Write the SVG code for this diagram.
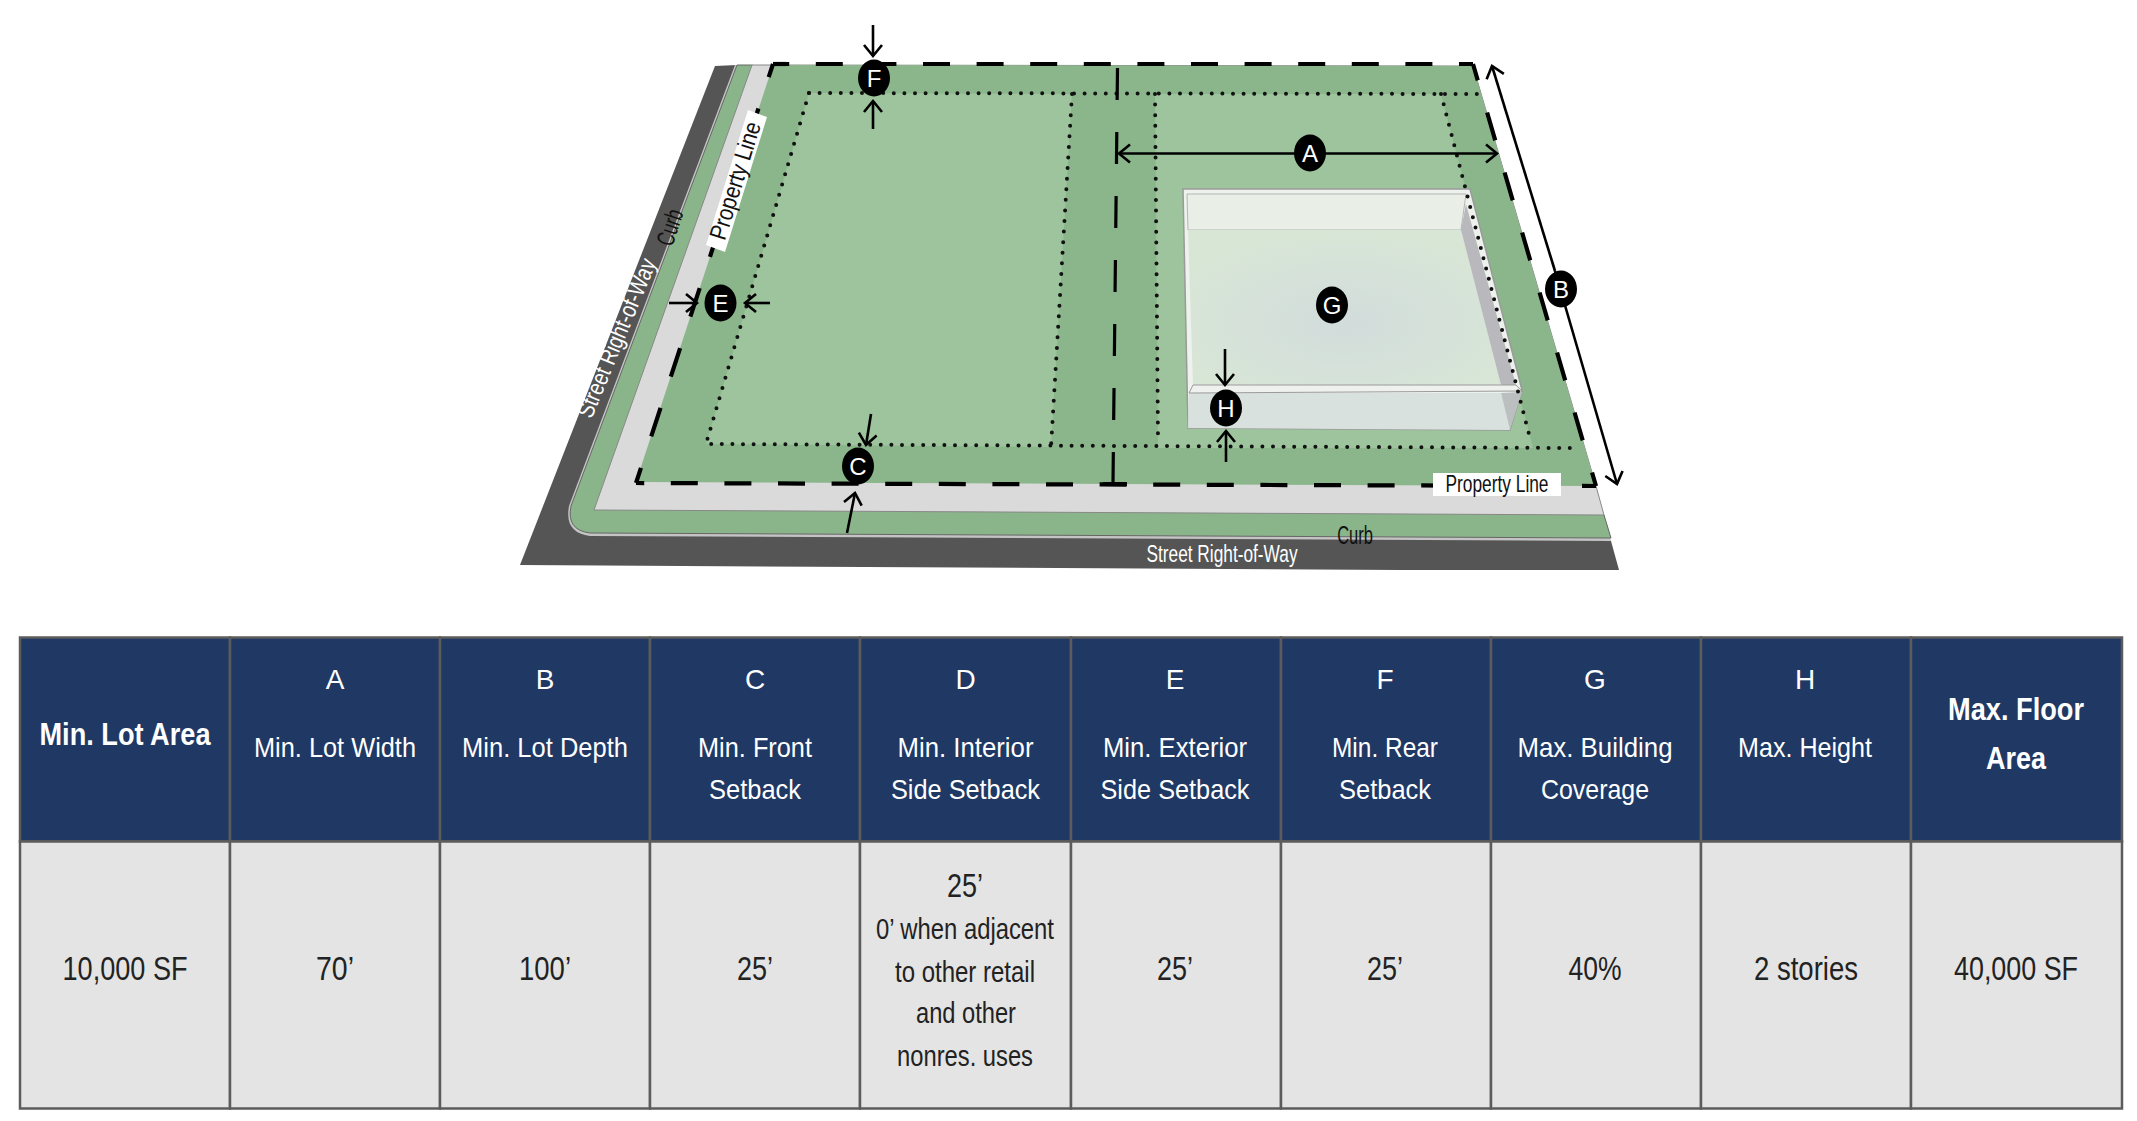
<svg xmlns="http://www.w3.org/2000/svg" width="2137" height="1121" viewBox="0 0 2137 1121">
<style>
text{font-family:"Liberation Sans",Arial,sans-serif}
#table text{transform:translateY(-1.4px)}
.prop{fill:none;stroke:#000;stroke-width:4.2}
.int{fill:none;stroke:#000;stroke-width:3.2;stroke-dasharray:32 32}
.dot{fill:none;stroke:#111;stroke-width:4;stroke-linecap:round;stroke-dasharray:0 10.6}
.arr{fill:none;stroke:#000;stroke-width:2.6;marker-end:url(#open)}
.badge{fill:#000}
.bt{fill:#fff;font-size:24px;text-anchor:middle}
.hd{fill:#203864;stroke:#5c5c5c;stroke-width:2.5}
.bd{fill:#e4e4e4;stroke:#5c5c5c;stroke-width:2.5}
.h{fill:#fff;font-size:28px;text-anchor:middle}
.hb{fill:#fff;font-size:31px;font-weight:bold;text-anchor:middle}
.b{fill:#222;font-size:33px;text-anchor:middle}
.bs{fill:#222;font-size:29px;text-anchor:middle}
.lab{font-size:24px;fill:#111}
.wh{font-size:24px;fill:#fff}
</style>
<defs>
<marker id="open" markerUnits="userSpaceOnUse" markerWidth="24" markerHeight="24" refX="20" refY="12" orient="auto">
<path d="M9 3 L20 12 L9 21" fill="none" stroke="#000" stroke-width="2.6"/>
</marker>
<radialGradient id="floor" cx="0.5" cy="0.6" r="0.6">
<stop offset="0" stop-color="#d2dcdc"/><stop offset="1" stop-color="#d8e6d6"/>
</radialGradient>
</defs>

<g id="site" transform="translate(0,1)">
<polygon points="715,65 737,64 1611,540 1619,569 1400,569 520,564" fill="#555"/>
<path d="M735,64 L569,505 Q564,532 590,535 L1611,540 L1604,514 L752,64 Z" fill="#c4c4c4" stroke="none"/>
<path d="M737,64 L571,505 Q566,529 590,532 L1611,537 L1604,514 L752,64 Z" fill="#8ab58a" stroke="#666" stroke-width="1"/>
<polygon points="752,64 773,64 1473,65 1596,485 1604,514 594,509" fill="#dadada" stroke="#888" stroke-width="1"/>
<polygon points="773,64 1473,65 1596,485 636,481" fill="#8bb68b"/>
<polygon points="809,92 1072,93 1051,446 706,443" fill="#9dc49d"/>
<polygon points="1155,93 1441,93 1533,447 1158,447" fill="#9dc49d"/>
</g>

<g id="building" transform="translate(0,1)">
<polygon points="1183,188 1470,188 1522,389 1510,429 1188,427" fill="#eef2ec" stroke="#9a9a9a" stroke-width="1.5"/>
<polygon points="1187,193 1466,193 1461,229 1188,229" fill="#e9efe7" stroke="#b5b5b5" stroke-width="1"/>
<polygon points="1188,229 1461,229 1501,384 1193,384" fill="url(#floor)"/>
<polygon points="1466,203 1461,229 1501,384 1516,384" fill="#b9b9bd"/>
<polygon points="1189,392 1501,392 1510,429 1188,427" fill="#d9e1df"/>
<polygon points="1501,392 1522,391 1510,429" fill="#bcbfc0"/>
<polygon points="1193,384 1516,384 1522,390 1189,392" fill="#eef1ee" stroke="#9a9a9a" stroke-width="1"/>
</g>

<g id="connectors" transform="translate(0,1)">
<path class="dot" d="M809,92 L1478,93"/>
<path class="dot" d="M809,92 L706,443 L1575,447"/>
<path class="dot" d="M1072,93 L1051,446"/>
<path class="dot" d="M1155,93 L1158,437"/>
<path class="dot" d="M1441,93 L1530,437"/>
<path class="prop" stroke-dasharray="27 26.6" stroke-dashoffset="13" d="M1473,63 L773,63"/>
<path class="prop" d="M773,63 L786,63"/>
<path class="prop" stroke-dasharray="27 26.6" stroke-dashoffset="13" d="M1596,485 L636,482"/>
<path class="prop" stroke-dasharray="30 33" stroke-dashoffset="14" d="M636,482 L773,63"/>
<path class="prop" stroke-dasharray="29 33.5" stroke-dashoffset="12" d="M1473,63 L1596,485"/>
<path class="int" d="M1117.5,67 L1113,482"/>
<path d="M1103,483 L1127,483" stroke="#000" stroke-width="4"/>
<path class="arr" d="M873,24 L873,55"/>
<path class="arr" d="M873,128 L873,100"/>
<path class="arr" d="M669,302 L697,302"/>
<path class="arr" d="M770,302 L745,302"/>
<path class="arr" d="M871,413 L866,444"/>
<path class="arr" d="M847,532 L855,492"/>
<path class="arr" d="M1310,152.500 L1497,152.500"/>
<path class="arr" d="M1310,152.500 L1119,152.500"/>
<path class="arr" d="M1225,348 L1225,384"/>
<path class="arr" d="M1226,461 L1226,430"/>
<path class="arr" d="M1555,270 L1492,65"/>
<path class="arr" d="M1555,270 L1617,483"/>
</g>

<g id="label-property-side">
<polygon points="748,110 767,117 725,252 706,245" fill="#fff"/>
<text class="lab" transform="translate(743,183) rotate(-72.7)" text-anchor="middle" textLength="122" lengthAdjust="spacingAndGlyphs">Property Line</text>
</g>
<g id="label-property-front">
<rect x="1433" y="473" width="128" height="23" fill="#fff"/>
<text class="lab" x="1497" y="492" text-anchor="middle" textLength="103" lengthAdjust="spacingAndGlyphs">Property Line</text>
</g>
<g id="label-curb-side"><text class="lab" style="font-size:25px" transform="translate(678,230) rotate(-72) scale(.68,1)" text-anchor="middle">Curb</text></g>
<g id="label-curb-front"><text class="lab" style="font-size:25px" transform="translate(1355,544) scale(.66,1)" text-anchor="middle">Curb</text></g>
<g id="label-row-side"><text class="wh" transform="translate(624,341) rotate(-67.5) scale(.81,1)" text-anchor="middle">Street Right-of-Way</text></g>
<g id="label-row-front"><text class="wh" transform="translate(1222,562) scale(.72,1)" text-anchor="middle">Street Right-of-Way</text></g>

<g id="marker-a"><ellipse class="badge" cx="1310" cy="153" rx="16" ry="18.5"/><text class="bt" x="1310" y="162">A</text></g>
<g id="marker-b"><ellipse class="badge" cx="1561" cy="289" rx="16" ry="18.5"/><text class="bt" x="1561" y="298">B</text></g>
<g id="marker-c"><ellipse class="badge" cx="858" cy="466" rx="16" ry="18.5"/><text class="bt" x="858" y="475">C</text></g>
<g id="marker-e"><ellipse class="badge" cx="720.5" cy="303" rx="16" ry="18.5"/><text class="bt" x="720.5" y="312">E</text></g>
<g id="marker-f"><ellipse class="badge" cx="874" cy="78" rx="16" ry="18.5"/><text class="bt" x="874" y="87">F</text></g>
<g id="marker-g"><ellipse class="badge" cx="1332" cy="305" rx="16" ry="18.5"/><text class="bt" x="1332" y="314">G</text></g>
<g id="marker-h"><ellipse class="badge" cx="1226" cy="408" rx="16" ry="18.5"/><text class="bt" x="1226" y="417">H</text></g>

<g id="table" transform="translate(0,1.5)">
<g id="col-1"><rect class="hd" x="20" y="636" width="210" height="204"/><rect class="bd" x="20" y="840" width="210" height="267"/>
<text class="hb" x="125" y="745" textLength="171" lengthAdjust="spacingAndGlyphs">Min. Lot Area</text>
<text class="b" x="125" y="980" textLength="125" lengthAdjust="spacingAndGlyphs">10,000 SF</text></g>
<g id="col-2"><rect class="hd" x="230" y="636" width="210" height="204"/><rect class="bd" x="230" y="840" width="210" height="267"/>
<text class="h" x="335" y="689">A</text>
<text class="h" x="335" y="757" textLength="162" lengthAdjust="spacingAndGlyphs">Min. Lot Width</text>
<text class="b" x="335" y="980" textLength="38" lengthAdjust="spacingAndGlyphs">70’</text></g>
<g id="col-3"><rect class="hd" x="440" y="636" width="210" height="204"/><rect class="bd" x="440" y="840" width="210" height="267"/>
<text class="h" x="545" y="689">B</text>
<text class="h" x="545" y="757" textLength="166" lengthAdjust="spacingAndGlyphs">Min. Lot Depth</text>
<text class="b" x="545" y="980" textLength="52" lengthAdjust="spacingAndGlyphs">100’</text></g>
<g id="col-4"><rect class="hd" x="650" y="636" width="210" height="204"/><rect class="bd" x="650" y="840" width="210" height="267"/>
<text class="h" x="755" y="689">C</text>
<text class="h" x="755" y="757" textLength="114" lengthAdjust="spacingAndGlyphs">Min. Front</text>
<text class="h" x="755" y="799" textLength="92" lengthAdjust="spacingAndGlyphs">Setback</text>
<text class="b" x="755" y="980" textLength="36" lengthAdjust="spacingAndGlyphs">25’</text></g>
<g id="col-5"><rect class="hd" x="860" y="636" width="211" height="204"/><rect class="bd" x="860" y="840" width="211" height="267"/>
<text class="h" x="965.500" y="689">D</text>
<text class="h" x="965.500" y="757" textLength="136" lengthAdjust="spacingAndGlyphs">Min. Interior</text>
<text class="h" x="965.500" y="799" textLength="149" lengthAdjust="spacingAndGlyphs">Side Setback</text>
<text class="b" x="965" y="897" textLength="36" lengthAdjust="spacingAndGlyphs">25’</text>
<text class="bs" x="965" y="939" textLength="178" lengthAdjust="spacingAndGlyphs">0’ when adjacent</text>
<text class="bs" x="965" y="982" textLength="140" lengthAdjust="spacingAndGlyphs">to other retail</text>
<text class="bs" x="966" y="1023" textLength="100" lengthAdjust="spacingAndGlyphs">and other</text>
<text class="bs" x="965" y="1066" textLength="136" lengthAdjust="spacingAndGlyphs">nonres. uses</text></g>
<g id="col-6"><rect class="hd" x="1071" y="636" width="210" height="204"/><rect class="bd" x="1071" y="840" width="210" height="267"/>
<text class="h" x="1175" y="689">E</text>
<text class="h" x="1175" y="757" textLength="144" lengthAdjust="spacingAndGlyphs">Min. Exterior</text>
<text class="h" x="1175" y="799" textLength="149" lengthAdjust="spacingAndGlyphs">Side Setback</text>
<text class="b" x="1175" y="980" textLength="36" lengthAdjust="spacingAndGlyphs">25’</text></g>
<g id="col-7"><rect class="hd" x="1281" y="636" width="210" height="204"/><rect class="bd" x="1281" y="840" width="210" height="267"/>
<text class="h" x="1385" y="689">F</text>
<text class="h" x="1385" y="757" textLength="106" lengthAdjust="spacingAndGlyphs">Min. Rear</text>
<text class="h" x="1385" y="799" textLength="92" lengthAdjust="spacingAndGlyphs">Setback</text>
<text class="b" x="1385" y="980" textLength="36" lengthAdjust="spacingAndGlyphs">25’</text></g>
<g id="col-8"><rect class="hd" x="1491" y="636" width="210" height="204"/><rect class="bd" x="1491" y="840" width="210" height="267"/>
<text class="h" x="1595" y="689">G</text>
<text class="h" x="1595" y="757" textLength="155" lengthAdjust="spacingAndGlyphs">Max. Building</text>
<text class="h" x="1595" y="799" textLength="108" lengthAdjust="spacingAndGlyphs">Coverage</text>
<text class="b" x="1595" y="980" textLength="53" lengthAdjust="spacingAndGlyphs">40%</text></g>
<g id="col-9"><rect class="hd" x="1701" y="636" width="210" height="204"/><rect class="bd" x="1701" y="840" width="210" height="267"/>
<text class="h" x="1805" y="689">H</text>
<text class="h" x="1805" y="757" textLength="134" lengthAdjust="spacingAndGlyphs">Max. Height</text>
<text class="b" x="1806" y="980" textLength="104" lengthAdjust="spacingAndGlyphs">2 stories</text></g>
<g id="col-10"><rect class="hd" x="1911" y="636" width="211" height="204"/><rect class="bd" x="1911" y="840" width="211" height="267"/>
<text class="hb" x="2016" y="720" textLength="136" lengthAdjust="spacingAndGlyphs">Max. Floor</text>
<text class="hb" x="2016" y="769" textLength="60" lengthAdjust="spacingAndGlyphs">Area</text>
<text class="b" x="2016" y="980" textLength="124" lengthAdjust="spacingAndGlyphs">40,000 SF</text></g>
</g>
</svg>
